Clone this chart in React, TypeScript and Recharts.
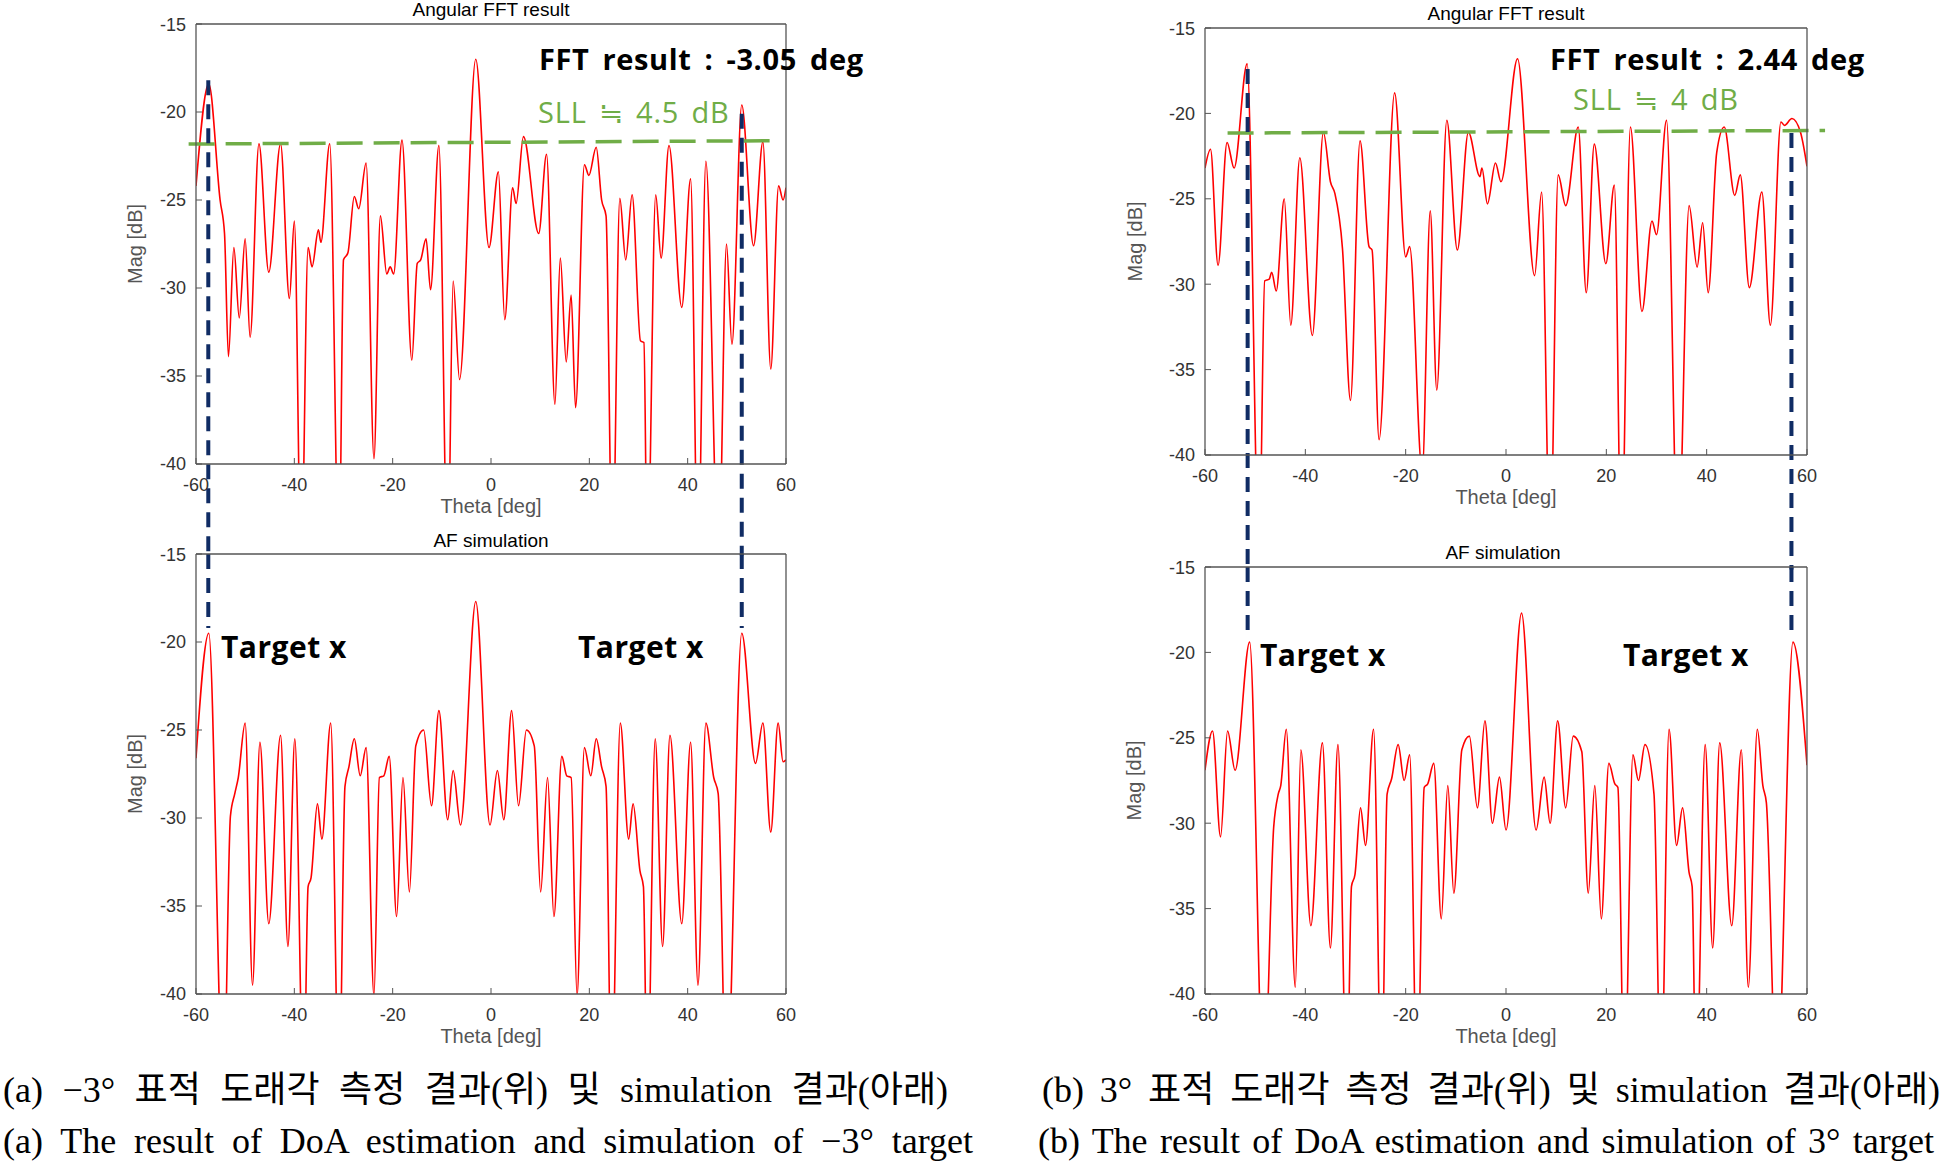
import { LineChart, Line, XAxis, YAxis, ReferenceLine, Label } from 'recharts';

type Pt = [number, number];

const THETA_TICKS = [-60, -40, -20, 0, 20, 40, 60];
const MAG_TICKS = [-40, -35, -30, -25, -20, -15];

// (a) -3 deg target, measured angular FFT  [theta deg, mag dB]
const FFT_A: Pt[] = [
  [-60, -24.2], [-57.4, -18.4], [-55.1, -25.0], [-54.2, -26.9], [-53.4, -33.9],
  [-52.3, -27.7], [-51.2, -31.7], [-50.0, -27.2], [-49.0, -32.8], [-47.2, -21.8],
  [-45.2, -29.1], [-42.8, -21.8], [-41.0, -30.6], [-40.0, -26.2], [-38.6, -46],
  [-37.2, -27.7], [-36.4, -28.8], [-35.1, -26.7], [-34.6, -27.4], [-32.8, -21.8],
  [-30.9, -46], [-30.0, -28.4], [-29.1, -28.0], [-27.8, -24.8], [-26.9, -25.5],
  [-25.4, -22.9], [-23.8, -39.7], [-22.5, -25.9], [-21.2, -29.2], [-20.5, -28.8],
  [-19.8, -29.2], [-18.1, -21.6], [-16.1, -34.1], [-15.0, -28.6], [-14.3, -28.4],
  [-13.2, -27.2], [-12.3, -30.1], [-10.6, -21.9], [-8.8, -46], [-7.7, -29.6],
  [-6.4, -35.2], [-3.1, -17.0], [-0.4, -27.7], [1.5, -23.4], [2.8, -31.8],
  [4.4, -24.3], [5.1, -25.2], [6.6, -21.4], [9.7, -26.9], [11.3, -22.4],
  [13.0, -36.6], [14.1, -28.3], [15.3, -34.2], [16.3, -30.4], [17.2, -36.8],
  [19.0, -23.0], [19.9, -23.6], [21.4, -22.0], [22.5, -25.0], [23.4, -25.9],
  [24.7, -46], [26.2, -24.9], [27.4, -28.4], [28.7, -24.7], [30.4, -33.0],
  [31.1, -33.1], [31.8, -46], [33.5, -24.7], [34.6, -28.3], [36.2, -21.9],
  [38.8, -31.1], [40.6, -23.8], [42.1, -46], [43.7, -22.8], [46.3, -46],
  [47.9, -27.5], [49.0, -33.2], [51.0, -19.6], [53.4, -27.6], [55.3, -21.7],
  [56.9, -34.6], [58.5, -24.2], [59.4, -25.0], [60, -24.3],
];

// (a) -3 deg target, array factor simulation
const SIM_A: Pt[] = [
  [-60, -26.6], [-57.4, -19.5], [-54.4, -46], [-53.0, -29.9], [-52.1, -28.6],
  [-51.4, -27.7], [-50.0, -24.6], [-48.5, -39.5], [-47.0, -25.7], [-45.2, -36.0],
  [-42.8, -25.3], [-41.3, -37.3], [-39.9, -25.5], [-38.1, -46], [-37.2, -33.9],
  [-36.6, -33.4], [-35.3, -29.2], [-34.4, -31.2], [-32.6, -24.6], [-30.9, -46],
  [-29.7, -28.2], [-28.9, -27.1], [-27.8, -25.5], [-26.6, -27.6], [-25.4, -26.0],
  [-23.8, -40.1], [-22.7, -27.7], [-21.8, -27.6], [-20.7, -26.5], [-19.2, -35.6],
  [-17.9, -27.7], [-16.6, -34.2], [-15.3, -25.9], [-13.7, -25.0], [-12.1, -29.3],
  [-10.6, -23.9], [-8.8, -30.1], [-7.7, -27.3], [-6.2, -30.4], [-3.1, -17.7],
  [-0.2, -30.4], [1.3, -27.3], [2.6, -30.1], [4.2, -23.9], [5.6, -29.3],
  [7.2, -25.0], [8.8, -25.9], [10.1, -34.2], [11.5, -27.7], [12.8, -35.6],
  [14.4, -26.5], [15.4, -27.6], [16.3, -27.7], [17.5, -40.1], [19.0, -26.0],
  [20.3, -27.6], [21.4, -25.5], [22.5, -27.1], [23.4, -28.2], [24.5, -46],
  [26.3, -24.6], [28.0, -31.2], [28.9, -29.2], [30.3, -33.0], [31.0, -33.9],
  [31.8, -46], [33.4, -25.5], [34.9, -37.3], [36.4, -25.3], [38.8, -36.0],
  [40.6, -25.7], [42.1, -39.5], [43.7, -24.6], [45.3, -27.7], [46.2, -28.6],
  [47.9, -46], [51.0, -19.5], [53.8, -26.9], [55.3, -24.6], [56.9, -30.8],
  [58.4, -24.6], [59.4, -26.8], [60, -26.7],
];

// (b) 3 deg target, measured angular FFT
const FFT_B: Pt[] = [
  [-60, -23.2], [-58.9, -22.1], [-57.4, -28.9], [-55.6, -21.7], [-54.2, -23.2],
  [-51.6, -17.1], [-49.2, -46], [-48.1, -29.8], [-47.2, -29.7], [-46.7, -29.3],
  [-45.8, -30.4], [-44.2, -25.0], [-42.9, -32.4], [-41.1, -22.6], [-38.6, -33.0],
  [-36.4, -21.1], [-35.0, -24.0], [-34.1, -24.7], [-32.6, -27.9], [-31.0, -36.8],
  [-29.1, -21.6], [-27.3, -27.8], [-26.7, -28.0], [-25.3, -39.1], [-22.2, -18.8],
  [-20.0, -28.4], [-19.2, -27.8], [-16.7, -41], [-15.1, -25.7], [-13.8, -36.2],
  [-11.8, -20.4], [-9.7, -28.0], [-7.5, -21.1], [-5.2, -23.7], [-4.8, -23.2],
  [-3.7, -25.3], [-2.1, -22.9], [-1.0, -24.0], [2.3, -16.8], [5.7, -29.5],
  [7.1, -24.6], [8.8, -46], [10.4, -23.6], [11.9, -25.4], [14.4, -20.8],
  [16.0, -30.5], [17.6, -21.8], [19.9, -28.8], [21.6, -24.2], [23.0, -46],
  [24.8, -20.8], [27.1, -31.6], [29.1, -26.3], [30.0, -27.1], [32.0, -20.4],
  [34.3, -46], [36.5, -25.4], [38.1, -29.0], [39.2, -26.4], [40.3, -30.5],
  [42.0, -22.3], [43.5, -20.8], [45.6, -24.8], [46.7, -23.6], [48.5, -30.2],
  [51.0, -24.6], [52.7, -32.4], [54.8, -20.5], [55.5, -20.7], [57.0, -20.3],
  [58.7, -21.1], [60, -23.1],
];

// (b) 3 deg target, array factor simulation
const SIM_B: Pt[] = [
  [-60, -26.9], [-58.5, -24.6], [-56.9, -30.8], [-55.5, -24.6], [-54.0, -26.9],
  [-51.1, -19.4], [-48.3, -46], [-46.3, -30.2], [-45.4, -28.3], [-44.9, -27.8],
  [-43.8, -24.5], [-42.0, -39.6], [-40.9, -25.7], [-38.9, -36.0], [-36.6, -25.3],
  [-35.0, -37.3], [-33.5, -25.4], [-31.7, -46], [-30.8, -33.7], [-30.1, -33.0],
  [-29.0, -29.1], [-28.0, -31.3], [-26.4, -24.5], [-24.8, -46], [-23.7, -28.3],
  [-22.8, -27.4], [-21.5, -25.4], [-20.3, -27.5], [-19.2, -26.0], [-17.7, -46],
  [-16.3, -27.9], [-15.6, -27.7], [-14.4, -26.5], [-12.9, -35.6], [-11.6, -27.8],
  [-10.4, -34.1], [-8.8, -25.7], [-7.3, -24.9], [-5.7, -29.1], [-4.2, -24.0],
  [-2.7, -30.0], [-1.3, -27.3], [0.0, -30.4], [3.1, -17.7], [6.0, -30.4],
  [7.6, -27.3], [8.8, -30.0], [10.3, -24.0], [11.9, -29.1], [13.4, -24.9],
  [15.1, -25.8], [16.4, -34.1], [17.7, -27.8], [19.0, -35.6], [20.5, -26.5],
  [21.7, -27.7], [22.3, -27.9], [23.6, -46], [25.3, -26.0], [26.4, -27.5],
  [27.7, -25.4], [29.5, -28.3], [30.9, -46], [32.5, -24.5], [34.0, -31.3],
  [35.2, -29.1], [36.5, -32.9], [37.1, -33.7], [37.9, -46], [39.7, -25.4],
  [41.2, -37.3], [42.6, -25.3], [45.0, -36.0], [46.9, -25.7], [48.3, -39.6],
  [50.1, -24.5], [51.2, -27.8], [51.9, -28.8], [54.0, -46], [57.2, -19.4],
  [60, -26.6],
];

// green side-lobe level lines: [theta, mag] start / end
const SLL_A: Pt[] = [[-61.5, -21.82], [58.2, -21.63]];
const SLL_B: Pt[] = [[-55.5, -21.15], [63.6, -21.0]];

// blue target markers: [theta, from mag, to mag]
const MARK_A_TOP = [[-57.5, -18.2, -45.2], [51.0, -20.1, -45.2]];
const MARK_A_BOT = [[-57.5, -15, -19.2], [51.0, -15, -19.2]];
const MARK_B_TOP = [[-51.5, -17.4, -46.7], [56.9, -21.15, -46.7]];
const MARK_B_BOT = [[-51.5, -15, -19.2], [56.9, -15, -19.2]];

const SANS = '"Liberation Sans", Arial, sans-serif';
const BOLD = '"Open Sans", "Noto Sans CJK KR", sans-serif';
const SERIF = '"Liberation Serif", "Times New Roman", "Noto Sans CJK KR", serif';
const FRAME = '#555';

interface PanelProps {
  left: number; top: number; w: number; h: number;
  below: number; magGap: number;
  data: Pt[];
  marks: number[][];
  sll?: Pt[];
}

function Panel({ left, top, w, h, below, magGap, data, marks, sll }: PanelProps) {
  const ML = 95, MT = 10, MR = 40;
  const rows = data.map(([t, m]) => ({ t, m }));
  return (
    <div style={{ position: 'absolute', left: left - ML, top: top - MT }}>
      <LineChart width={ML + w + MR} height={MT + h + below} data={rows}
        margin={{ top: 0, right: MR - 10, bottom: 0, left: 0 }}>
        <XAxis dataKey="t" type="number" domain={[-60, 60]} ticks={THETA_TICKS} allowDataOverflow
          height={below} tickSize={-6} tickMargin={20}
          axisLine={{ stroke: FRAME, strokeWidth: 1.3 }} tickLine={{ stroke: FRAME }}
          tick={{ fill: '#333', fontSize: 18, fontFamily: SANS }}>
          <Label value="Theta [deg]" position="insideTop" offset={35}
            style={{ fill: '#555', fontSize: 20, fontFamily: SANS }} />
        </XAxis>
        <XAxis xAxisId="top" orientation="top" type="number" domain={[-60, 60]} ticks={THETA_TICKS}
          allowDataOverflow height={MT} tickSize={-6} tick={false}
          axisLine={{ stroke: FRAME, strokeWidth: 1.3 }} tickLine={{ stroke: FRAME }} />
        <YAxis type="number" domain={[-40, -15]} ticks={MAG_TICKS} allowDataOverflow
          width={ML} tickSize={-6} tickMargin={16}
          axisLine={{ stroke: FRAME, strokeWidth: 1.3 }} tickLine={{ stroke: FRAME }}
          tick={{ fill: '#333', fontSize: 18, fontFamily: SANS }}>
          <Label value="Mag [dB]" angle={-90} position="insideLeft" offset={ML - magGap}
            style={{ textAnchor: 'middle', fill: '#555', fontSize: 20, fontFamily: SANS }} />
        </YAxis>
        <YAxis yAxisId="right" orientation="right" type="number" domain={[-40, -15]} ticks={MAG_TICKS}
          allowDataOverflow width={10} tickSize={-6} tick={false}
          axisLine={{ stroke: FRAME, strokeWidth: 1.3 }} tickLine={{ stroke: FRAME }} />
        <Line dataKey="m" type="monotone" stroke="#ff0000" strokeWidth={1.6} dot={false}
          activeDot={false} isAnimationActive={false} />
        {sll && (
          <ReferenceLine segment={sll.map(([x, y]) => ({ x, y }))} ifOverflow="visible"
            stroke="#70ad47" strokeWidth={3.5} strokeDasharray="26 11" />
        )}
        {marks.map(([x, y1, y2], i) => (
          <ReferenceLine key={i} segment={[{ x, y: y1 }, { x, y: y2 }]} ifOverflow="visible"
            stroke="#102c64" strokeWidth={4} strokeDasharray="15 9" />
        ))}
      </LineChart>
    </div>
  );
}

function Txt({ x, y, children, size, color = '#000', weight = 400, family = BOLD, center = false, spacing = 0, words = 0 }: {
  x: number; y: number; children: React.ReactNode; size: number; color?: string;
  weight?: number; family?: string; center?: boolean; spacing?: number; words?: number;
}) {
  return (
    <div style={{
      position: 'absolute', left: x, top: y, transform: `translate(${center ? '-50%' : '0'}, -50%)`,
      fontSize: size, color, fontWeight: weight, fontFamily: family, whiteSpace: 'nowrap',
      lineHeight: 1, letterSpacing: spacing, wordSpacing: words,
    }}>{children}</div>
  );
}

function Caption({ x, y, w, children }: { x: number; y: number; w: number; children: React.ReactNode }) {
  return (
    <div style={{
      position: 'absolute', left: x, top: y, width: w, fontFamily: SERIF, fontSize: 36,
      lineHeight: 1, textAlign: 'justify', textAlignLast: 'justify', color: '#000',
    }}>{children}</div>
  );
}

export default function App() {
  return (
    <div style={{ position: 'absolute', left: 0, top: 0, width: 1944, height: 1167, background: '#fff', overflow: 'hidden' }}>
      <Panel left={196} top={24} w={590} h={440} below={100} magGap={61} data={FFT_A} marks={MARK_A_TOP} sll={SLL_A} />
      <Panel left={196} top={554} w={590} h={440} below={60} magGap={61} data={SIM_A} marks={MARK_A_BOT} />
      <Panel left={1205} top={28} w={602} h={427} below={125} magGap={70} data={FFT_B} marks={MARK_B_TOP} sll={SLL_B} />
      <Panel left={1205} top={567} w={602} h={427} below={60} magGap={71} data={SIM_B} marks={MARK_B_BOT} />

      <Txt x={491} y={9} size={19} family={SANS} center>Angular FFT result</Txt>
      <Txt x={491} y={540} size={19} family={SANS} center>AF simulation</Txt>
      <Txt x={1506} y={13} size={19} family={SANS} center>Angular FFT result</Txt>
      <Txt x={1503} y={552} size={19} family={SANS} center>AF simulation</Txt>

      <Txt x={539} y={58} size={29} weight={700} spacing={0.6} words={5}>FFT result : -3.05 deg</Txt>
      <Txt x={538} y={111} size={29} color="#70ad47" spacing={0.8} words={4}>SLL ≒ 4.5 dB</Txt>
      <Txt x={1550} y={58} size={29} weight={700} spacing={0.6} words={5}>FFT result : 2.44 deg</Txt>
      <Txt x={1573} y={98} size={29} color="#70ad47" spacing={0.8} words={4}>SLL ≒ 4 dB</Txt>

      <Txt x={221} y={647} size={30} weight={700} spacing={0.5}>Target x</Txt>
      <Txt x={578} y={647} size={30} weight={700} spacing={0.5}>Target x</Txt>
      <Txt x={1260} y={655} size={30} weight={700} spacing={0.5}>Target x</Txt>
      <Txt x={1623} y={655} size={30} weight={700} spacing={0.5}>Target x</Txt>

      <Caption x={3} y={1072} w={945}>(a) −3° 표적 도래각 측정 결과(위) 및 simulation 결과(아래)</Caption>
      <Caption x={3} y={1123} w={970}>(a) The result of DoA estimation and simulation of −3° target</Caption>
      <Caption x={1042} y={1072} w={898}>(b) 3° 표적 도래각 측정 결과(위) 및 simulation 결과(아래)</Caption>
      <Caption x={1038} y={1123} w={896}>(b) The result of DoA estimation and simulation of 3° target</Caption>
    </div>
  );
}
